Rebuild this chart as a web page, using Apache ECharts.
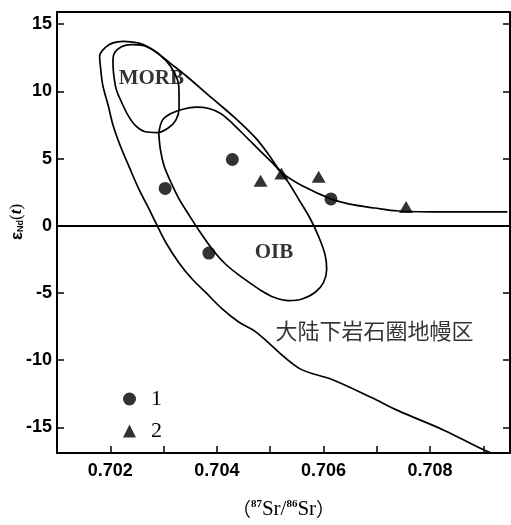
<!DOCTYPE html>
<html><head><meta charset="utf-8">
<script src="https://cdn.jsdelivr.net/npm/echarts@6/dist/echarts.min.js"></script>
<style>html,body{margin:0;padding:0;background:#fff}#c{width:511px;height:525px}</style>
</head><body><div id="c"></div><script>
// ---- data ----
const yTickValues = [-15, -10, -5, 0, 5, 10, 15];
const xLabelValues = [0.702, 0.704, 0.706, 0.708];
const xTickValues = [0.702, 0.703, 0.704, 0.705, 0.706, 0.707, 0.708, 0.709];

const s1X = [0.70429, 0.70303, 0.70614, 0.70385];
const s1Y = [4.93, 2.78, 2.00, -2.03];
const s2X = [0.70482, 0.70521, 0.70591, 0.70755];
const s2Y = [3.35, 3.88, 3.64, 1.39];

const mantleX = [0.70945, 0.70833, 0.70740, 0.70696, 0.70647, 0.70614, 0.70566, 0.70522, 0.70497, 0.70473, 0.70435, 0.70392, 0.70342, 0.70311, 0.70292, 0.70274, 0.70252, 0.70224, 0.70205, 0.70190, 0.70180, 0.70182, 0.70186, 0.70196, 0.70205, 0.70218, 0.70236, 0.70255, 0.70274, 0.70286, 0.70305, 0.70329, 0.70354, 0.70379, 0.70410, 0.70441, 0.70473, 0.70553, 0.70616, 0.70690, 0.70740, 0.70827, 0.70908, 0.70935];
const mantleY = [1.03, 1.03, 1.10, 1.32, 1.63, 2.00, 2.86, 3.96, 5.30, 6.52, 7.99, 9.45, 11.16, 12.14, 12.75, 13.24, 13.60, 13.72, 13.60, 13.24, 12.62, 11.65, 10.43, 8.96, 7.50, 6.03, 4.32, 2.61, 1.15, 0.17, -1.30, -2.76, -3.98, -4.96, -6.18, -7.16, -7.89, -10.57, -11.43, -12.77, -13.75, -15.22, -16.80, -17.05];

const morbX = [0.70205, 0.70208, 0.70221, 0.70239, 0.70261, 0.70283, 0.70305, 0.70320, 0.70328, 0.70329, 0.70329, 0.70323, 0.70308, 0.70289, 0.70264, 0.70246, 0.70233, 0.70221, 0.70211, 0.70206, 0.70205];
const morbY = [12.38, 12.87, 13.31, 13.48, 13.41, 12.99, 12.26, 11.40, 10.55, 9.69, 8.72, 7.86, 7.25, 6.93, 7.01, 7.50, 8.23, 9.21, 10.18, 11.40, 12.38];

const oibX = [0.70291, 0.70298, 0.70314, 0.70336, 0.70361, 0.70385, 0.70407, 0.70429, 0.70454, 0.70482, 0.70510, 0.70532, 0.70553, 0.70575, 0.70591, 0.70603, 0.70606, 0.70600, 0.70584, 0.70560, 0.70535, 0.70507, 0.70479, 0.70448, 0.70417, 0.70392, 0.70370, 0.70348, 0.70329, 0.70314, 0.70301, 0.70294, 0.70291];
const oibY = [6.89, 7.86, 8.35, 8.67, 8.82, 8.72, 8.35, 7.62, 6.64, 5.54, 4.44, 3.35, 2.00, 0.54, -0.81, -2.15, -3.25, -4.22, -4.96, -5.45, -5.57, -5.32, -4.71, -3.86, -2.88, -1.78, -0.56, 0.78, 2.00, 3.22, 4.44, 5.66, 6.89];

const labelNames = ['MORB', 'OIB', '大陆下岩石圈地幔区'];
const labelX = [0.70277, 0.70507, 0.70510];
const labelY = [10.92, -2.03, -7.77];
// ---------------

const zip = (a, b) => a.map((v, i) => [v, b[i]]);
const chart = echarts.init(document.getElementById('c'));
const curveStyle = { color: '#000', width: 1.7 };
const curve = (name, xs, ys) => ({
  name, type: 'line', data: zip(xs, ys), showSymbol: false, symbol: 'none',
  smooth: 0.35, lineStyle: curveStyle, silent: true, z: 3
});
const spine = { show: true, onZero: false, lineStyle: { color: '#000', width: 2 } };
const serif = 'Liberation Serif, Times New Roman, serif';
const sans = 'Liberation Sans, Arial, sans-serif';

chart.setOption({
  animation: false,
  backgroundColor: '#fff',
  grid: { left: 57, right: 1, top: 12, bottom: 65 },
  xAxis: [{
    type: 'value', min: 0.701, max: 0.7095,
    axisLine: spine,
    axisTick: { show: true, inside: true, length: 7, lineStyle: { color: '#000', width: 1.5 }, customValues: xTickValues },
    axisLabel: { customValues: xLabelValues, formatter: v => v.toFixed(3), color: '#000', fontSize: 18, fontWeight: 'bold', fontFamily: sans, margin: 9 },
    splitLine: { show: false },
    name: '{q|（}{s|87}{p|Sr/}{s|86}{p|Sr}{q|）}', nameLocation: 'middle', nameGap: 46,
    nameTextStyle: { rich: {
      q: { fontFamily: 'Noto Sans CJK SC, sans-serif', fontSize: 19, color: '#000' },
      p: { fontFamily: serif, fontSize: 21, color: '#000' },
      s: { fontFamily: serif, fontSize: 11, fontWeight: 'bold', color: '#000', verticalAlign: 'top', padding: [0, 0, 9, 0] }
    } }
  }, {
    type: 'value', min: 0.701, max: 0.7095, position: 'top',
    axisLine: spine, axisTick: { show: false }, axisLabel: { show: false }, splitLine: { show: false }
  }],
  yAxis: [{
    type: 'value', min: -16.9, max: 15.9,
    axisLine: spine,
    axisTick: { show: true, inside: true, length: 7, lineStyle: { color: '#000', width: 1.5 }, customValues: yTickValues },
    axisLabel: { customValues: yTickValues, color: '#000', fontSize: 18, fontWeight: 'bold', fontFamily: sans, margin: 5 },
    splitLine: { show: false }
  }, {
    type: 'value', min: -16.9, max: 15.9, position: 'right',
    axisLine: spine,
    axisTick: { show: true, inside: true, length: 7, lineStyle: { color: '#000', width: 1.5 }, customValues: yTickValues },
    axisLabel: { show: false }, splitLine: { show: false }
  }],
  legend: {
    orient: 'vertical', left: 118, top: 383, itemWidth: 13, itemHeight: 13, itemGap: 10,
    data: [{ name: '1', icon: 'circle' }, { name: '2', icon: 'triangle' }],
    textStyle: { fontFamily: serif, fontSize: 22, color: '#000', padding: [0, 0, 0, 10] }
  },
  graphic: [{
    type: 'text', x: 17, y: 222, rotation: Math.PI / 2,
    style: {
      text: '{a|ε}{b|Nd}{c|(}{d|t}{c|)}', align: 'center', verticalAlign: 'middle',
      rich: {
        a: { fontFamily: sans, fontSize: 17, fontWeight: 'bold', fill: '#000' },
        b: { fontFamily: sans, fontSize: 9, fontWeight: 'bold', fill: '#000', padding: [8, 0, 0, 0] },
        c: { fontFamily: serif, fontSize: 17, fill: '#000' },
        d: { fontFamily: serif, fontSize: 17, fontStyle: 'italic', fontWeight: 'bold', fill: '#000' }
      }
    }
  }],
  series: [
    Object.assign(curve('mantle', mantleX, mantleY), {
      markLine: { silent: true, symbol: 'none', label: { show: false },
        lineStyle: { color: '#000', width: 2, type: 'solid' }, data: [{ yAxis: 0 }] }
    }),
    curve('MORB', morbX, morbY),
    curve('OIB', oibX, oibY),
    { name: '1', type: 'scatter', data: zip(s1X, s1Y), symbol: 'circle', symbolSize: 13, itemStyle: { color: '#000' }, z: 5 },
    { name: '2', type: 'scatter', data: zip(s2X, s2Y), symbol: 'triangle', symbolSize: [14, 12], itemStyle: { color: '#000' }, z: 5 },
    { name: 'labels', type: 'scatter', symbolSize: 0, silent: true, z: 4,
      data: labelNames.map((n, i) => ({ value: [labelX[i], labelY[i]], name: n,
        label: { show: true, formatter: n, position: i === 2 ? 'right' : 'inside', distance: 0,
          color: '#000', fontSize: i === 2 ? 22 : 21, fontWeight: i === 2 ? 'normal' : 'bold',
          fontFamily: i === 2 ? 'Noto Sans CJK SC, sans-serif' : serif } })) }
  ]
});
</script></body></html>
